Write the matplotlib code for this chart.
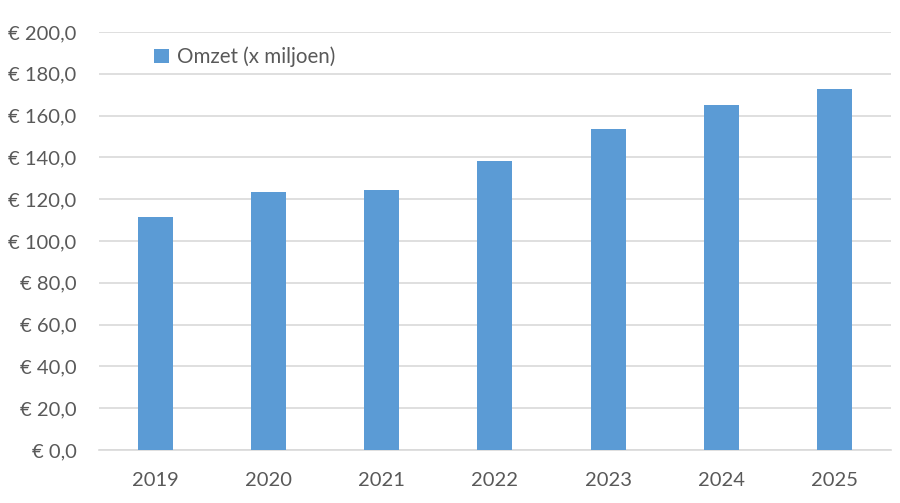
import numpy as np
import matplotlib.pyplot as plt
from matplotlib.ticker import FuncFormatter

years = ["2019", "2020", "2021", "2022", "2023", "2024", "2025"]
omzet = [111.6, 123.4, 124.2, 138.1, 153.4, 165.2, 172.6]

bar_color = "#5B9BD5"
text_color = "#595959"
grid_color = "#D9D9D9"

plt.rcParams['font.family'] = ['Lato', 'DejaVu Sans']

fig = plt.figure(figsize=(9, 5.03), dpi=100)
ax = fig.add_axes([0.1097, 0.1054, 0.8803, 0.831])

x = np.arange(len(years))
ax.bar(x, omzet, width=0.31, color=bar_color, label="Omzet (x miljoen)", zorder=3)

ax.set_xlim(-0.5, len(years) - 0.5)
ax.set_ylim(0, 200)
ax.set_yticks(np.arange(0, 201, 20))
ax.yaxis.set_major_formatter(FuncFormatter(lambda v, p: "€ " + f"{v:.1f}".replace(".", ",")))
ax.set_xticks(x)
ax.set_xticklabels(years)

ax.grid(axis='y', color=grid_color, linewidth=1.2, zorder=0)
for side in ["top", "right", "left"]:
    ax.spines[side].set_visible(False)
ax.spines["bottom"].set_color(grid_color)
ax.spines["bottom"].set_linewidth(1.2)

ax.tick_params(axis='both', length=0, labelsize=14.5, colors=text_color)
ax.tick_params(axis='y', pad=16)
ax.tick_params(axis='x', pad=16)

leg = ax.legend(loc='upper left', bbox_to_anchor=(0.06, 0.985), frameon=False,
                fontsize=14.8, handlelength=0.7, handleheight=0.7, handletextpad=0.4,
                borderaxespad=0)
for t in leg.get_texts():
    t.set_color(text_color)

fig.savefig("out.png", dpi=100)
